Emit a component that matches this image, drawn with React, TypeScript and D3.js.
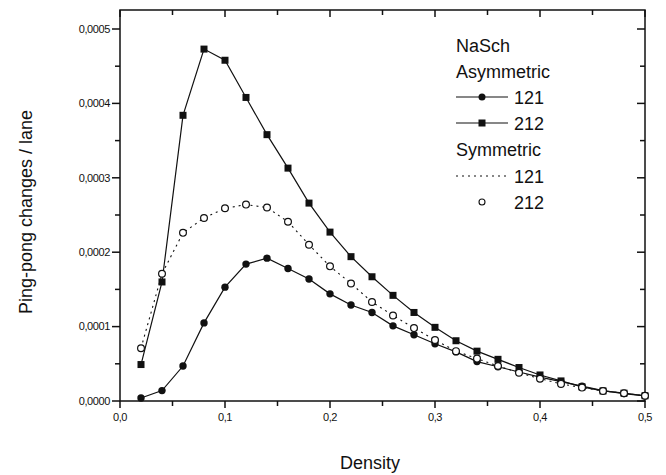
import React from "react";
import * as d3 from "d3";

const densities = [0.02,0.04,0.06,0.08,0.10,0.12,0.14,0.16,0.18,0.20,0.22,0.24,0.26,0.28,0.30,0.32,0.34,0.36,0.38,0.40,0.42,0.44,0.46,0.48,0.50];
// values in units of 1e-4
const asym121 = [0.04,0.14,0.47,1.05,1.53,1.84,1.92,1.78,1.64,1.44,1.29,1.19,1.01,0.89,0.77,0.66,0.53,0.46,0.39,0.32,0.26,0.20,0.14,0.10,0.07];
const asym212 = [0.49,1.60,3.84,4.73,4.58,4.08,3.58,3.13,2.66,2.27,1.94,1.67,1.42,1.19,0.99,0.81,0.67,0.56,0.45,0.35,0.27,0.19,0.135,0.105,0.07];
const sym121 = [0.71,1.71,2.26,2.46,2.59,2.64,2.60,2.41,2.10,1.81,1.58,1.33,1.15,0.98,0.82,0.67,0.57,0.47,0.38,0.30,0.23,0.18,0.135,0.105,0.07];
const sym212 = [0.71,1.71,2.26,2.46,2.59,2.64,2.60,2.41,2.10,1.81,1.58,1.33,1.15,0.98,0.82,0.67,0.57,0.47,0.38,0.30,0.23,0.18,0.135,0.105,0.07];

const xTicks = [0, 0.1, 0.2, 0.3, 0.4, 0.5];
const xMinor = [0.05, 0.15, 0.25, 0.35, 0.45];
const yTicks = [0, 0.0001, 0.0002, 0.0003, 0.0004, 0.0005];
const yMinor = [0.00005, 0.00015, 0.00025, 0.00035, 0.00045];

const W = 666, H = 475;
const M = { left: 120, right: 645, top: 10, bottom: 401 };

export default function App() {
  const x = d3.scaleLinear().domain([0, 0.5]).range([M.left, M.right]);
  const y = d3.scaleLinear().domain([0, 0.0005]).range([M.bottom, 29]);
  const toPts = (vals: number[]) => densities.map((d, i) => [d, vals[i] * 1e-4] as [number, number]);
  const line = d3.line<[number, number]>().x(d => x(d[0])).y(d => y(d[1]));
  const fx = (v: number) => d3.format(".1f")(v).replace(".", ",");
  const fy = (v: number) => d3.format(".4f")(v).replace(".", ",");
  const font = "'Liberation Sans', Arial, sans-serif";
  const ink = "#111";

  const lx0 = 456, lx1 = 508, ltx = 514;

  return (
    <>
      <style>{`body{margin:0}`}</style>
      <svg width={W} height={H} style={{ display: "block", background: "#fff" }} fontFamily={font}>
        {/* frame */}
        <rect x={M.left} y={M.top} width={M.right - M.left} height={M.bottom - M.top} fill="none" stroke={ink} strokeWidth={1.5} />
        {/* left ticks */}
        {yTicks.map(t => (
          <g key={"yt" + t}>
            <line x1={M.left - 8} x2={M.left} y1={y(t)} y2={y(t)} stroke={ink} strokeWidth={1.5} />
            <line x1={M.right - 8} x2={M.right} y1={y(t)} y2={y(t)} stroke={ink} strokeWidth={1.5} />
            <text x={M.left - 10} y={y(t)} dy="0.35em" textAnchor="end" fontSize={11} letterSpacing={-0.4} fill={ink}>{fy(t)}</text>
          </g>
        ))}
        {yMinor.map(t => (
          <g key={"ym" + t}>
            <line x1={M.left - 5} x2={M.left} y1={y(t)} y2={y(t)} stroke={ink} strokeWidth={1.5} />
            <line x1={M.right - 5} x2={M.right} y1={y(t)} y2={y(t)} stroke={ink} strokeWidth={1.5} />
          </g>
        ))}
        {xTicks.map(t => (
          <g key={"xt" + t}>
            <line x1={x(t)} x2={x(t)} y1={M.bottom} y2={M.bottom + 7} stroke={ink} strokeWidth={1.5} />
            <line x1={x(t)} x2={x(t)} y1={M.top} y2={M.top + 7} stroke={ink} strokeWidth={1.5} />
            <text x={x(t)} y={M.bottom + 20} textAnchor="middle" fontSize={11} letterSpacing={-0.4} fill={ink}>{fx(t)}</text>
          </g>
        ))}
        {xMinor.map(t => (
          <g key={"xm" + t}>
            <line x1={x(t)} x2={x(t)} y1={M.bottom} y2={M.bottom + 5} stroke={ink} strokeWidth={1.5} />
            <line x1={x(t)} x2={x(t)} y1={M.top} y2={M.top + 5} stroke={ink} strokeWidth={1.5} />
          </g>
        ))}
        {/* axis titles */}
        <text x={370} y={469} textAnchor="middle" fontSize={18} fill={ink}>Density</text>
        <text transform={`translate(32,212) rotate(-90)`} textAnchor="middle" fontSize={18} fill={ink}>Ping-pong changes / lane</text>

        {/* series */}
        <path d={line(toPts(sym121)) || ""} fill="none" stroke={ink} strokeWidth={1.1} strokeDasharray="2 4" />
        <path d={line(toPts(asym212)) || ""} fill="none" stroke={ink} strokeWidth={1.2} />
        <path d={line(toPts(asym121)) || ""} fill="none" stroke={ink} strokeWidth={1.2} />
        {toPts(asym212).map((p, i) => (
          <rect key={"s" + i} x={x(p[0]) - 3.5} y={y(p[1]) - 3.5} width={7} height={7} fill={ink} />
        ))}
        {toPts(asym121).map((p, i) => (
          <circle key={"c" + i} cx={x(p[0])} cy={y(p[1])} r={3.7} fill={ink} />
        ))}
        {toPts(sym212).map((p, i) => (
          <circle key={"o" + i} cx={x(p[0])} cy={y(p[1])} r={3.4} fill="#fff" stroke={ink} strokeWidth={1.2} />
        ))}

        {/* legend */}
        <g fontSize={18} fill={ink}>
          <text x={lx0} y={52}>NaSch</text>
          <text x={lx0} y={78}>Asymmetric</text>
          <line x1={lx0} x2={lx1} y1={97} y2={97} stroke={ink} strokeWidth={1.2} />
          <circle cx={(lx0 + lx1) / 2} cy={97} r={3.5} fill={ink} />
          <text x={ltx} y={104}>121</text>
          <line x1={lx0} x2={lx1} y1={123} y2={123} stroke={ink} strokeWidth={1.2} />
          <rect x={(lx0 + lx1) / 2 - 3.5} y={119.5} width={7} height={7} fill={ink} />
          <text x={ltx} y={130}>212</text>
          <text x={lx0} y={156}>Symmetric</text>
          <line x1={lx0} x2={lx1} y1={176} y2={176} stroke={ink} strokeWidth={1.1} strokeDasharray="2 4" />
          <text x={ltx} y={183}>121</text>
          <circle cx={(lx0 + lx1) / 2} cy={202} r={3} fill="#fff" stroke={ink} strokeWidth={1.1} />
          <text x={ltx} y={209}>212</text>
        </g>
      </svg>
    </>
  );
}
